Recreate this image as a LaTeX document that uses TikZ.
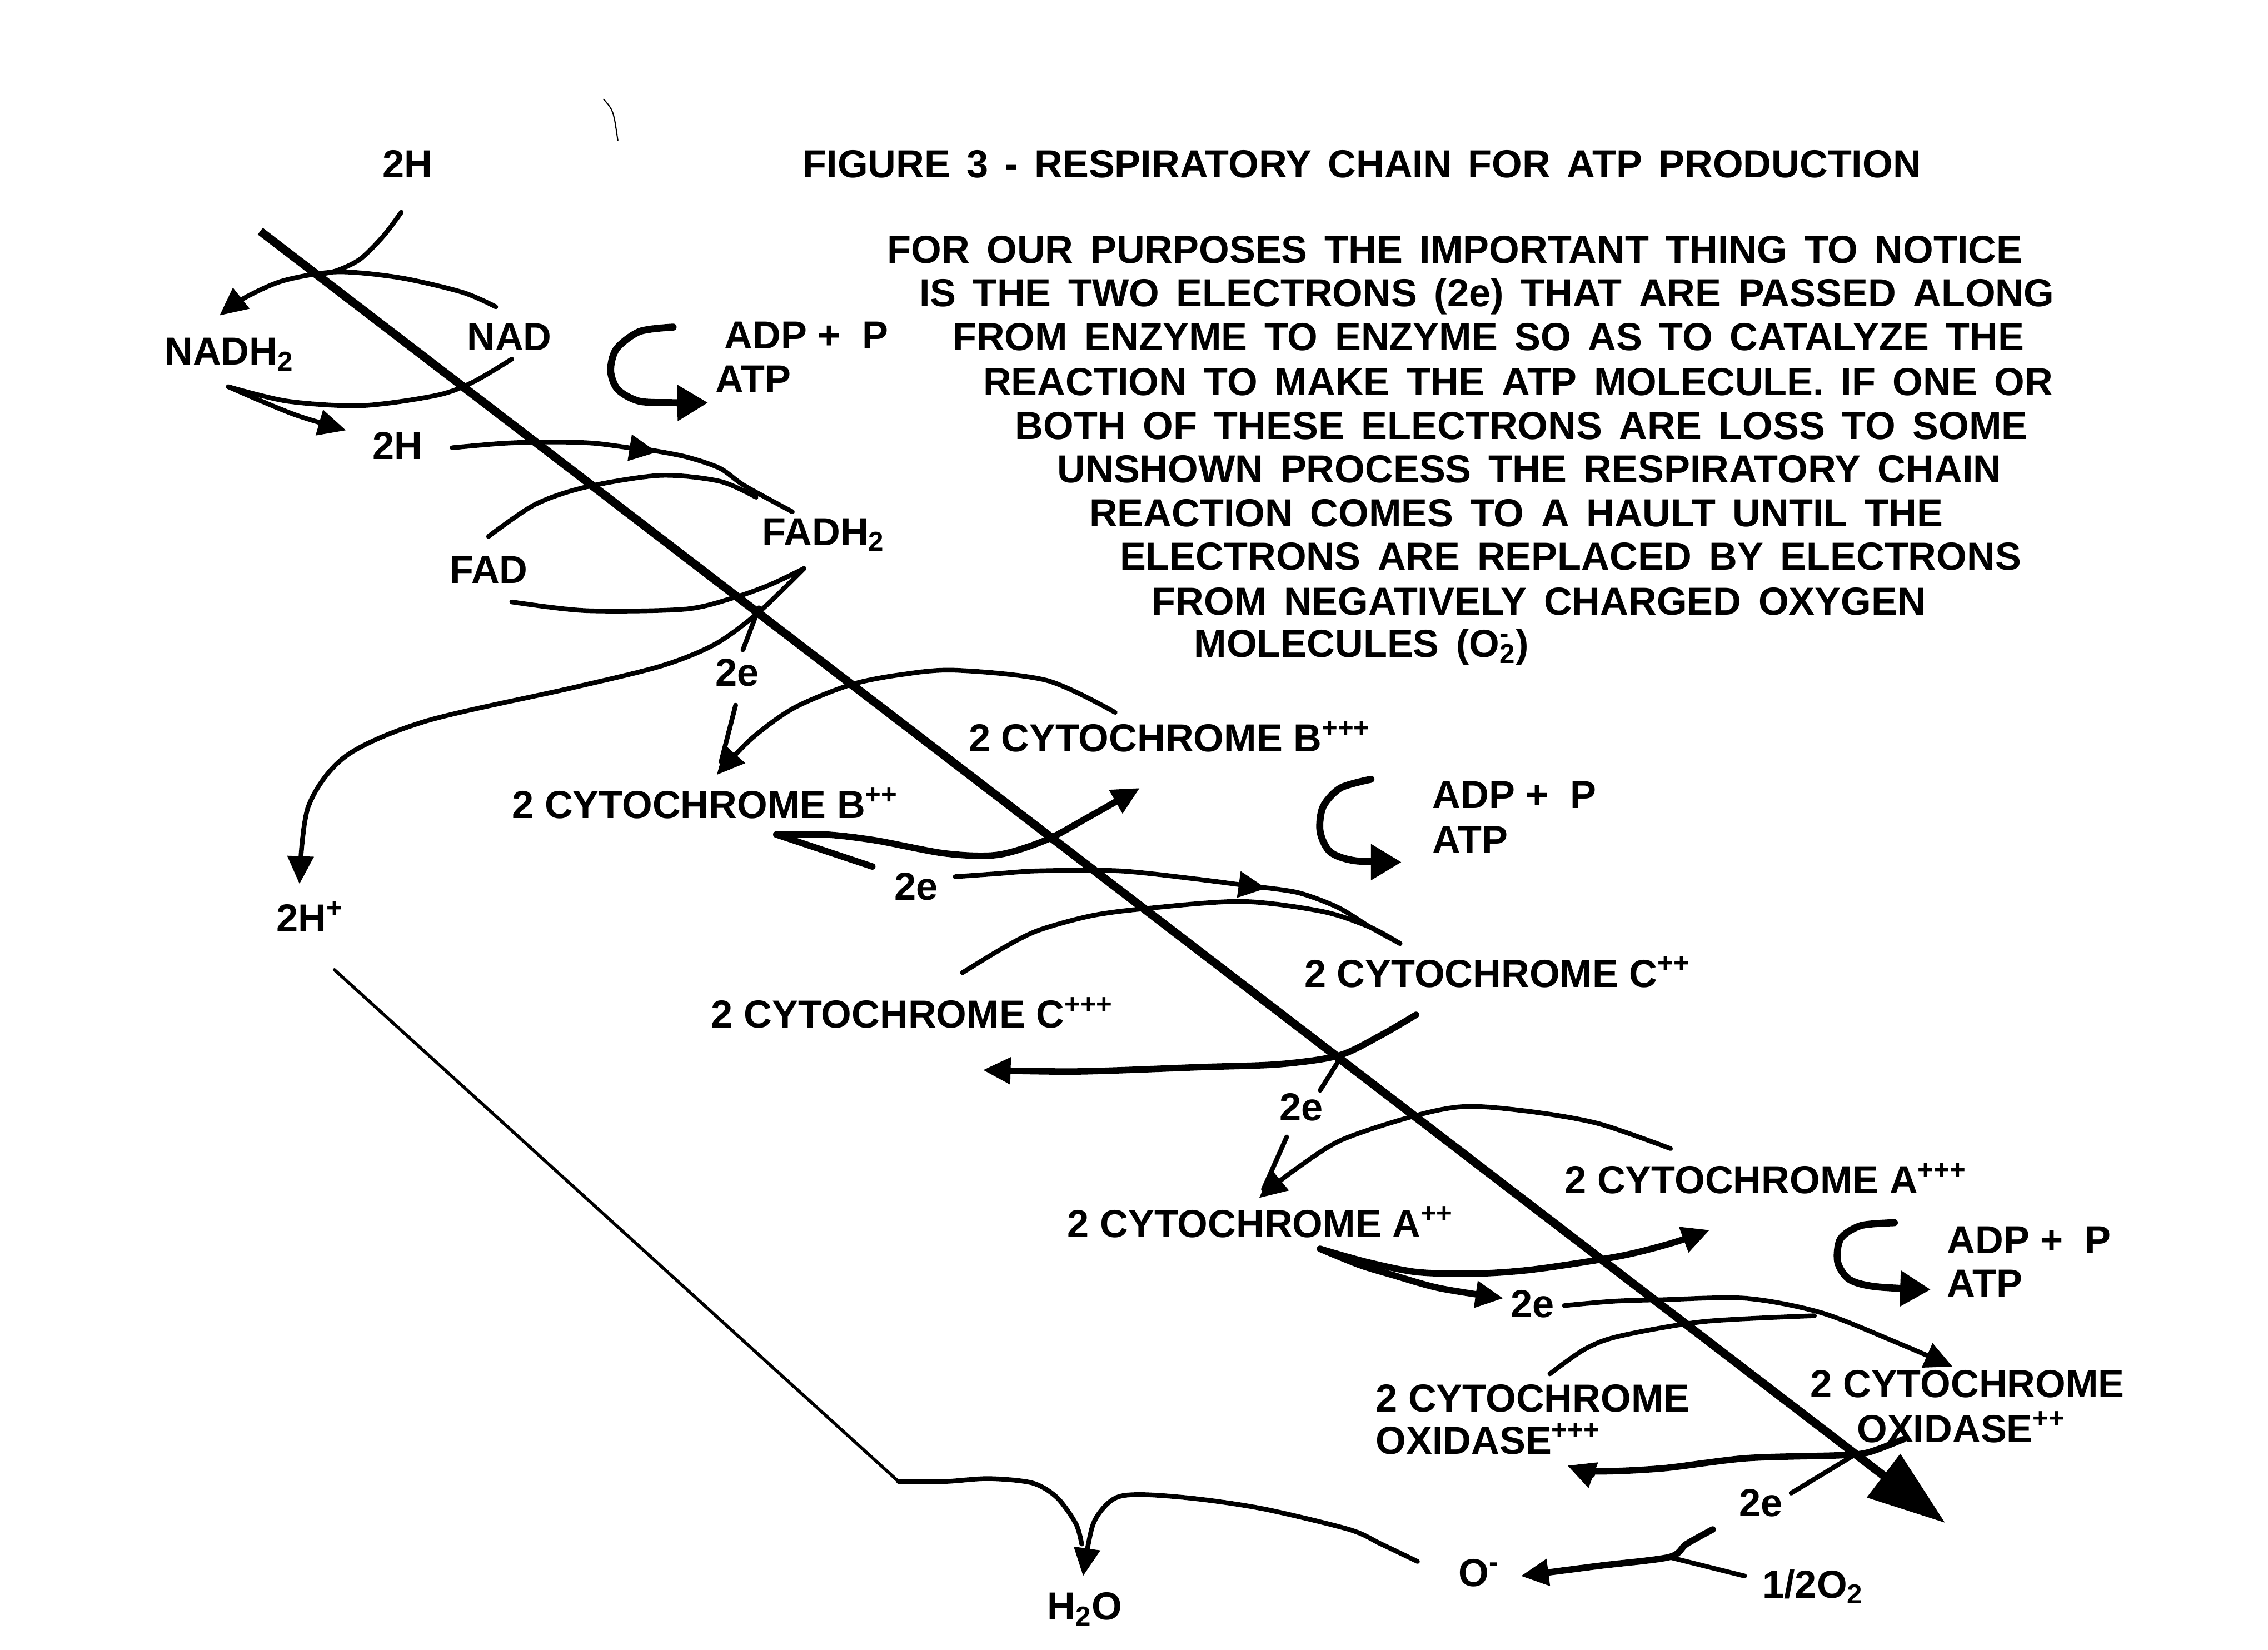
\documentclass[tikz,border=0pt]{standalone}
\usepackage{fontspec}
\setmainfont{Liberation Sans}
\usetikzlibrary{arrows.meta}
\tikzset{
 lbl/.style={inner sep=0pt, font=\fontsize{20}{24}\selectfont\bfseries, anchor=base west},
 para/.style={lbl, execute at begin node={\spaceskip=8.7pt\relax}},
 curve/.style={line width=2.4pt, line cap=round, line join=round},
 heavy/.style={line width=3.3pt, line cap=round, line join=round},
 atpstroke/.style={line width=3.6pt, line cap=round, line join=round},
 thinline/.style={line width=1.6pt, line cap=round},
 mainline/.style={line width=4.3pt},
 tip/.style={-{Triangle[length=5mm,width=4.6mm]}},
 bigtip/.style={-{Triangle[length=14mm,width=9.5mm]}},
 atptip/.style={-{Triangle[length=5.5mm,width=6.2mm]}},
}
\begin{document}
\begin{tikzpicture}[x=0.2616mm, y=-0.2616mm]
\fill[white] (0,0) rectangle (1560,1134.6);
\useasboundingbox (0,0) rectangle (1560,1134.6);

% ---------- texts ----------
\node[para, execute at begin node={\spaceskip=8.4pt\relax}] (title) at (552,122) {FIGURE 3 - RESPIRATORY CHAIN FOR ATP PRODUCTION};
\node[para] (p1) at (610,181) {FOR OUR PURPOSES THE IMPORTANT THING TO NOTICE};
\node[para] (p2) at (632,211) {IS THE TWO ELECTRONS (2e) THAT ARE PASSED ALONG};
\node[para] (p3) at (655,241) {FROM ENZYME TO ENZYME SO AS TO CATALYZE THE};
\node[para] (p4) at (676,272) {REACTION TO MAKE THE ATP MOLECULE. IF ONE OR};
\node[para] (p5) at (698,302) {BOTH OF THESE ELECTRONS ARE LOSS TO SOME};
\node[para] (p6) at (727,332) {UNSHOWN PROCESS THE RESPIRATORY CHAIN};
\node[para] (p7) at (749,362) {REACTION COMES TO A HAULT UNTIL THE};
\node[para] (p8) at (770,392) {ELECTRONS ARE REPLACED BY ELECTRONS};
\node[para] (p9) at (792,423) {FROM NEGATIVELY CHARGED OXYGEN};
\node[para] (p10) at (821,452) {MOLECULES (O\rlap{\textsuperscript{-}}\textsubscript{2})};

\node[lbl] (t2Ha) at (263,122) {2H};
\node[lbl] (tNADH) at (113,251) {NADH\textsubscript{2}};
\node[lbl] (tNAD) at (321,241) {NAD};
\node[lbl] (tADP1) at (498,240) {ADP + \ P};
\node[lbl] (tATP1) at (492,270) {ATP};
\node[lbl] (t2Hb) at (256,316) {2H};
\node[lbl] (tFADH) at (524,375) {FADH\textsubscript{2}};
\node[lbl] (tFAD) at (309,401) {FAD};
\node[lbl] (t2e1) at (492,472) {2e};
\node[lbl] (tBp3) at (666,517) {2 CYTOCHROME B\textsuperscript{+++}};
\node[lbl] (tBp2) at (352,563) {2 CYTOCHROME B\textsuperscript{++}};
\node[lbl] (tADP2) at (985,556) {ADP + \ P};
\node[lbl] (tATP2) at (985,587) {ATP};
\node[lbl] (t2e2) at (615,619) {2e};
\node[lbl] (tHp) at (190,641) {2H\textsuperscript{+}};
\node[lbl] (tCp2) at (897,679) {2 CYTOCHROME C\textsuperscript{++}};
\node[lbl] (tCp3) at (489,707) {2 CYTOCHROME C\textsuperscript{+++}};
\node[lbl] (t2e3) at (880,771) {2e};
\node[lbl] (tAp3) at (1076,821) {2 CYTOCHROME A\textsuperscript{+++}};
\node[lbl] (tAp2) at (734,851) {2 CYTOCHROME A\textsuperscript{++}};
\node[lbl] (tADP3) at (1339,862) {ADP + \ P};
\node[lbl] (tATP3) at (1339,892) {ATP};
\node[lbl] (t2e4) at (1039,906) {2e};
\node[lbl] (tOx3a) at (946,971) {2 CYTOCHROME};
\node[lbl] (tOx3b) at (946,1000) {OXIDASE\textsuperscript{+++}};
\node[lbl] (tOx2a) at (1245,961) {2 CYTOCHROME};
\node[lbl] (tOx2b) at (1277,992) {OXIDASE\textsuperscript{++}};
\node[lbl] (t2e5) at (1196,1043) {2e};
\node[lbl] (tOm) at (1003,1091) {O\textsuperscript{-}};
\node[lbl] (tHalf) at (1212,1099) {1/2O\textsubscript{2}};
\node[lbl] (tH2O) at (720,1114) {H\textsubscript{2}O};

% ---------- coordinates ----------
\coordinate (m1) at (179,159); \coordinate (m2) at (1338,1047.5);
\coordinate (st1) at (415,68); \coordinate (st2) at (425,97);
\coordinate (s2H) at (276,146); \coordinate (jA) at (218,189);
\coordinate (sNAD) at (341,211); \coordinate (eNADH) at (151,217);
\coordinate (sNADHb) at (157,266); \coordinate (e2Hb) at (238,296);
\coordinate (eNADb) at (352,247);
\coordinate (s2Hb) at (311,308); \coordinate (m2H) at (452,311);
\coordinate (m2Hc) at (444,309); \coordinate (eFADHa) at (545,352);
\coordinate (sFADa) at (336,369); \coordinate (eFADa) at (520,342);
\coordinate (sFADb) at (352,414); \coordinate (eFADHb) at (553,391);
\coordinate (eHp) at (206,608);
\coordinate (x1) at (522,418); \coordinate (x1e) at (511,447);
\coordinate (sBp3) at (767,490); \coordinate (eBp2) at (493,533);
\coordinate (s2e1) at (506,485); \coordinate (e2e1) at (496,524);
\coordinate (sBp2) at (534,574); \coordinate (eBp3) at (784,542);
\coordinate (e2e2a) at (600,596);
\coordinate (s2e2) at (657,603); \coordinate (mC) at (871,611);
\coordinate (mCc) at (865,610); \coordinate (eCp2) at (963,649);
\coordinate (sCp3) at (662,669);
\coordinate (sCp2) at (974,698); \coordinate (eCp3) at (676,736);
\coordinate (x3) at (923,726); \coordinate (x3e) at (908,750);
\coordinate (s2e3) at (885,782); \coordinate (e2e3) at (869,818);
\coordinate (sAp3) at (1149,790); \coordinate (eAp2) at (866,824);
\coordinate (sAp2) at (908,859); \coordinate (eAp3) at (1176,846);
\coordinate (e2e4a) at (1034,893);
\coordinate (s2e4) at (1076,898); \coordinate (eOx2) at (1343,940);
\coordinate (sOx3) at (1066,945); \coordinate (eOx3a) at (1248,905);
\coordinate (sOx2) at (1309,990); \coordinate (eOx3) at (1078,1008);
\coordinate (x5) at (1275,1001); \coordinate (x5e) at (1232,1027);
\coordinate (s2e5) at (1178,1052); \coordinate (eOm) at (1046,1084);
\coordinate (sHalf) at (1200,1084); \coordinate (jO) at (1148,1071);
\coordinate (sOm) at (975,1074); \coordinate (eH2O) at (745,1084);
\coordinate (sHp) at (230,667); \coordinate (kink) at (618,1019);
\coordinate (eH2Ob) at (744,1062);
\coordinate (c1s) at (463,225); \coordinate (c1e) at (487,277);
\coordinate (c2s) at (943,536); \coordinate (c2e) at (964,593);
\coordinate (c3s) at (1303,841); \coordinate (c3e) at (1328,887);

% ---------- main chain arrow ----------
\draw[mainline,bigtip] (m1) -- (m2);
\draw[line width=0.6pt] (st1) .. controls (422,76) .. (st2);

% ---------- NAD / FAD ----------
\draw[curve] plot[smooth] coordinates {(s2H) (264,162) (248,178) (232,186) (jA)};
\draw[curve,tip] plot[smooth] coordinates {(sNAD) (318,201) (275,191) (232,187) (195,193) (168,205) (eNADH)};
\draw[curve,tip] plot[smooth] coordinates {(sNADHb) (180,276) (205,286) (e2Hb)};
\draw[curve] plot[smooth] coordinates {(sNADHb) (198,276) (249,279) (300,272) (325,263) (eNADb)};
\draw[curve,tip] plot[smooth] coordinates {(s2Hb) (345,305) (375,304) (410,305) (m2H)};
\draw[curve] plot[smooth] coordinates {(m2Hc) (471,314) (495,322) (512,334) (eFADHa)};
\draw[curve] plot[smooth] coordinates {(sFADa) (368,347) (403,335) (454,327) (495,331) (eFADa)};
\draw[curve] plot[smooth] coordinates {(sFADb) (403,420) (471,419) (505,411) (530,402) (eFADHb)};
\draw[curve,tip] plot[smooth] coordinates {(eFADHb) (522,421) (492,443) (455,458) (394,473) (293,496) (238,520) (212,555) (eHp)};
\draw[curve] (x1) -- (x1e);

% ---------- cytochrome B ----------
\draw[curve,tip] plot[smooth] coordinates {(sBp3) (720,468) (657,461) (620,464) (585,471) (546,487) (517,508) (eBp2)};
\draw[curve] (s2e1) -- (e2e1);
\draw[heavy,tip] plot[smooth] coordinates {(sBp2) (568,574) (602,578) (650,587) (686,588) (719,578) (747,563) (eBp3)};
\draw[heavy] (sBp2) -- (e2e2a);

% ---------- cytochrome C ----------
\draw[curve,tip] plot[smooth] coordinates {(s2e2) (685,601) (714,599) (770,599) (826,605) (mC)};
\draw[curve] plot[smooth] coordinates {(mCc) (893,614) (920,624) (943,638) (eCp2)};
\draw[curve] plot[smooth] coordinates {(sCp3) (690,652) (714,640) (750,630) (787,625) (854,620) (910,627) (943,638) (eCp2)};
\draw[heavy,tip] plot[smooth] coordinates {(sCp2) (950,712) (921,726) (880,732) (826,734) (741,737) (eCp3)};
\draw[curve] (x3) -- (x3e);

% ---------- cytochrome A ----------
\draw[curve] (s2e3) -- (e2e3);
\draw[curve,tip] plot[smooth] coordinates {(sAp3) (1100,773) (1056,765) (1010,761) (975,767) (923,784) (890,805) (eAp2)};
\draw[heavy,tip] plot[smooth] coordinates {(sAp2) (940,868) (975,875) (1016,876) (1056,873) (1114,864) (1150,855) (eAp3)};
\draw[heavy,tip] plot[smooth] coordinates {(sAp2) (935,870) (958,877) (990,886) (e2e4a)};

% ---------- cytochrome oxidase ----------
\draw[curve,tip] plot[smooth] coordinates {(s2e4) (1110,895) (1143,894) (1201,893) (1253,903) (1306,924) (eOx2)};
\draw[curve] plot[smooth] coordinates {(sOx3) (1090,928) (1114,919) (1172,909) (eOx3a)};
\draw[heavy,tip] plot[smooth] coordinates {(sOx2) (1285,999) (1265,1001) (1201,1003) (1143,1010) (1097,1012) (eOx3)};
\draw[curve] (x5) -- (x5e);

% ---------- oxygen / water ----------
\draw[heavy,tip] plot[smooth] coordinates {(s2e5) (1160,1062) (jO) (1100,1077) (eOm)};
\draw[curve] (sHalf) -- (jO);
\draw[curve,tip] plot[smooth] coordinates {(sOm) (950,1062) (928,1052) (870,1038) (824,1031) (785,1028) (766,1031) (752,1048) (eH2O)};
\draw[thinline] (sHp) -- (kink);
\draw[curve] plot[smooth] coordinates {(kink) (650,1019) (680,1017) (710,1020) (727,1030) (740,1048) (eH2Ob)};

% ---------- ADP -> ATP ----------
\draw[atpstroke,atptip] plot[smooth] coordinates {(c1s) (440,228) (424,240) (420,255) (425,268) (440,276) (465,277) (c1e)};
\draw[atpstroke,atptip] plot[smooth] coordinates {(c2s) (922,542) (910,555) (908,572) (915,586) (932,592) (c2e)};
\draw[atpstroke,atptip] plot[smooth] coordinates {(c3s) (1280,843) (1266,852) (1264,868) (1272,880) (1290,885) (c3e)};
\end{tikzpicture}
\end{document}
